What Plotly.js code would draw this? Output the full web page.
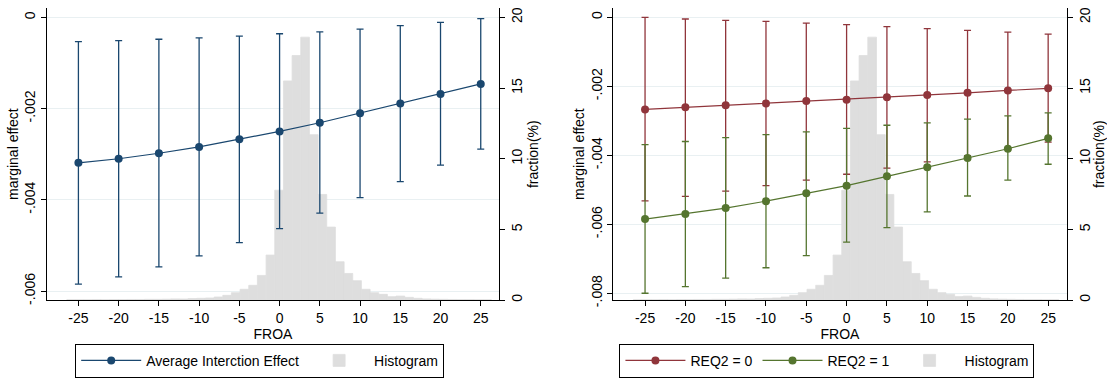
<!DOCTYPE html>
<html>
<head>
<meta charset="utf-8">
<script src="https://cdn.plot.ly/plotly-3.0.1.min.js"></script>
<style>html,body{margin:0;padding:0;background:#fff;}#chart{width:1107px;height:378px;}</style>
</head>
<body>
<div id="chart"></div>
<script>
// ---- data ----
const froa = [-25, -20, -15, -10, -5, 0, 5, 10, 15, 20, 25];

// Left panel: average interaction effect
const aieMean  = [-0.00319, -0.00310, -0.00298, -0.00284, -0.00267, -0.00250, -0.00231, -0.00210, -0.00189, -0.00168, -0.00146];
const aieUpper = [-0.00053, -0.00051, -0.00048, -0.00045, -0.00041, -0.00036, -0.00032, -0.00026, -0.00018, -0.00011, -0.00003];
const aieLower = [-0.00585, -0.00569, -0.00547, -0.00523, -0.00494, -0.00463, -0.00429, -0.00395, -0.00360, -0.00324, -0.00289];

// Right panel: REQ2 = 0
const req0Mean  = [-0.00267, -0.00261, -0.00255, -0.00250, -0.00243, -0.00239, -0.00232, -0.00225, -0.00219, -0.00212, -0.00206];
const req0Upper = [0.00000, -0.00005, -0.00009, -0.00012, -0.00017, -0.00021, -0.00027, -0.00033, -0.00038, -0.00043, -0.00049];
const req0Lower = [-0.00532, -0.00519, -0.00504, -0.00488, -0.00472, -0.00455, -0.00437, -0.00419, -0.00401, -0.00382, -0.00362];

// Right panel: REQ2 = 1
const req1Mean  = [-0.00585, -0.00570, -0.00553, -0.00533, -0.00510, -0.00488, -0.00461, -0.00435, -0.00408, -0.00381, -0.00351];
const req1Upper = [-0.00369, -0.00360, -0.00349, -0.00340, -0.00332, -0.00322, -0.00313, -0.00306, -0.00295, -0.00286, -0.00277];
const req1Lower = [-0.00800, -0.00781, -0.00756, -0.00726, -0.00691, -0.00652, -0.00610, -0.00564, -0.00518, -0.00472, -0.00426];

// Histogram of FROA (fraction, %)
const histBinWidth = 1.077;
const histCenters = [-25.91, -24.83, -23.75, -22.68, -21.60, -20.52, -19.45, -18.37, -17.29, -16.22, -15.14, -14.06, -12.98, -11.91, -10.83, -9.75, -8.68, -7.60, -6.52, -5.45, -4.37, -3.29, -2.22, -1.14, -0.06, 1.02, 2.09, 3.17, 4.25, 5.32, 6.40, 7.48, 8.55, 9.63, 10.71, 11.78, 12.86, 13.94, 15.01, 16.09, 17.17, 18.24, 19.32, 20.40, 21.47, 22.55, 23.63, 24.70, 25.78];
const histFrac    = [0.02, 0.02, 0.02, 0.03, 0.02, 0.03, 0.03, 0.04, 0.04, 0.05, 0.05, 0.06, 0.08, 0.07, 0.10, 0.12, 0.14, 0.21, 0.33, 0.52, 0.76, 1.04, 1.74, 3.18, 7.77, 15.5, 17.3, 18.6, 11.7, 7.47, 5.16, 2.71, 1.88, 1.37, 0.76, 0.52, 0.40, 0.24, 0.28, 0.19, 0.12, 0.08, 0.06, 0.05, 0.04, 0.03, 0.03, 0.02, 0.02];

const xTicks = [-25, -20, -15, -10, -5, 0, 5, 10, 15, 20, 25];
const fracTicks = [0, 5, 10, 15, 20];
const meTicksL = [0, -0.002, -0.004, -0.006];
const meTextL = ['0', '-.002', '-.004', '-.006'];
const meTicksR = [0, -0.002, -0.004, -0.006, -0.008];
const meTextR = ['0', '-.002', '-.004', '-.006', '-.008'];

// ---- styles ----
const NAVY = '#1a476f', RED = '#90353b', GREEN = '#55752f', HIST = '#dedede', GRID = '#e9f0f2';
const FONT = 'Liberation Sans, Arial, Helvetica, sans-serif';

function ci(mean, up, lo) {
  return {
    type: 'data',
    array: up.map((u, i) => u - mean[i]),
    arrayminus: mean.map((m, i) => m - lo[i]),
    thickness: 1.3, width: 3.5
  };
}
function series(name, mean, up, lo, color, xa, ya, legend, rank) {
  const e = ci(mean, up, lo); e.color = color;
  return {
    type: 'scatter', mode: 'lines+markers', name: name, legendrank: rank,
    x: froa, y: mean, xaxis: xa, yaxis: ya, legend: legend,
    line: {color: color, width: 1.2},
    marker: {color: color, size: 8},
    error_y: e
  };
}
function hist(xa, ya, legend) {
  return {
    type: 'bar', name: 'Histogram', x: histCenters, y: histFrac, legendrank: 1000,
    width: histCenters.map(() => histBinWidth),
    xaxis: xa, yaxis: ya, legend: legend,
    marker: {color: HIST, line: {color: HIST, width: 0.8}}
  };
}

const data = [
  hist('x', 'y', 'legend'),
  series('Average Interction Effect', aieMean, aieUpper, aieLower, NAVY, 'x', 'y2', 'legend', 1),
  hist('x2', 'y3', 'legend2'),
  series('REQ2 = 0', req0Mean, req0Upper, req0Lower, RED, 'x2', 'y4', 'legend2', 1),
  series('REQ2 = 1', req1Mean, req1Upper, req1Lower, GREEN, 'x2', 'y4', 'legend2', 2)
];

const tickFont = {family: FONT, size: 14, color: '#000'};
const titleFont = {family: FONT, size: 14, color: '#000'};
const yDom = [0.2063, 0.978];

function xAxis(dom, anchor) {
  return {
    domain: dom, anchor: anchor, range: [-28.94, 27.3],
    tickmode: 'array', tickvals: xTicks, ticktext: xTicks.map(String),
    ticks: 'outside', ticklen: 5, tickcolor: '#000', tickwidth: 1,
    showline: true, linecolor: '#000', linewidth: 1,
    showgrid: false, zeroline: false, tickfont: tickFont,
    title: {text: 'FROA', font: titleFont, standoff: 4}
  };
}
function fracAxis(anchor) {
  return {
    domain: yDom, anchor: anchor, side: 'right', range: [0, 20.64],
    tickmode: 'array', tickvals: fracTicks, ticktext: fracTicks.map(String),
    tickangle: -90, ticks: 'outside', ticklen: 5, tickcolor: '#000',
    showline: true, linecolor: '#000', linewidth: 1,
    showgrid: false, zeroline: false, tickfont: tickFont,
    title: {text: 'fraction(%)', font: titleFont, standoff: 3}
  };
}
function meAxis(over, anchor, range, tv, tt) {
  return {
    overlaying: over, anchor: anchor, side: 'left', range: range,
    tickmode: 'array', tickvals: tv, ticktext: tt,
    tickangle: -90, ticks: 'outside', ticklen: 5, tickcolor: '#000',
    showline: true, linecolor: '#000', linewidth: 1,
    showgrid: true, gridcolor: GRID, gridwidth: 1, zeroline: false, tickfont: tickFont,
    title: {text: 'marginal effect', font: titleFont, standoff: 0}
  };
}

const legendBase = {
  orientation: 'h', xanchor: 'center', yanchor: 'middle', y: 0.0455,
  bordercolor: '#000', borderwidth: 1, bgcolor: '#fff',
  font: {family: FONT, size: 14, color: '#000'},
  traceorder: 'normal', itemwidth: 60
};

const layout = {
  width: 1107, height: 378,
  margin: {l: 0, r: 0, t: 0, b: 0},
  paper_bgcolor: '#fff', plot_bgcolor: '#fff',
  font: {family: FONT, size: 14, color: '#000'},
  bargap: 0, barmode: 'overlay',
  showlegend: true,
  xaxis: xAxis([0.0422, 0.4510], 'y'),
  yaxis: fracAxis('x'),
  yaxis2: meAxis('y', 'x', [-0.006197, 0.000198], meTicksL, meTextL),
  xaxis2: xAxis([0.5540, 0.9636], 'y3'),
  yaxis3: fracAxis('x2'),
  yaxis4: meAxis('y3', 'x2', [-0.008196, 0.00026], meTicksR, meTextR),
  legend: Object.assign({}, legendBase, {x: 0.2346}),
  legend2: Object.assign({}, legendBase, {x: 0.747})
};

Plotly.newPlot('chart', data, layout, {displayModeBar: false, staticPlot: true});
</script>
</body>
</html>
